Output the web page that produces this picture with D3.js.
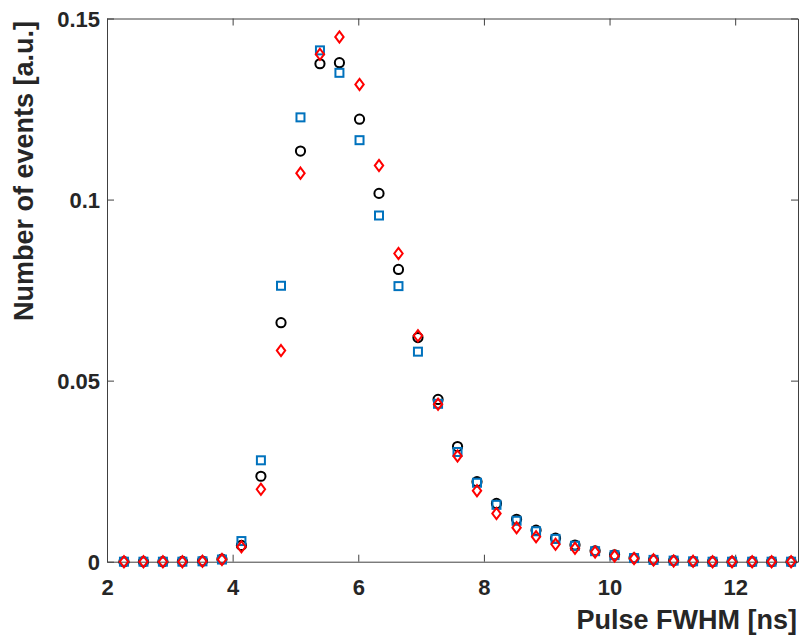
<!DOCTYPE html>
<html>
<head>
<meta charset="utf-8">
<script src="https://cdn.jsdelivr.net/npm/d3@7/dist/d3.min.js"></script>
<style>
  html, body { margin: 0; padding: 0; background: #ffffff; }
  svg { display: block; }
</style>
</head>
<body>
<svg id="chart" width="801" height="641"></svg>
<script>
// ---- data ----
const fwhm = [2.27, 2.58, 2.89, 3.20, 3.52, 3.83, 4.14, 4.45, 4.77, 5.08, 5.39, 5.70, 6.02, 6.33, 6.64, 6.95, 7.27, 7.58, 7.89, 8.20, 8.52, 8.83, 9.14, 9.45, 9.77, 10.08, 10.39, 10.70, 11.02, 11.33, 11.64, 11.95, 12.27, 12.58, 12.89];
const seriesBlack = [0, 0, 0, 0.0001, 0.0002, 0.0007, 0.0045, 0.0236, 0.0660, 0.1134, 0.1375, 0.1378, 0.1222, 0.1017, 0.0807, 0.0619, 0.0448, 0.0318, 0.0221, 0.0161, 0.0117, 0.0087, 0.0065, 0.0046, 0.0030, 0.0019, 0.0010, 0.0005, 0.0003, 0.0001, 0, 0, 0, 0, 0];
const seriesBlue = [0, 0, 0, 0, 0.0001, 0.0006, 0.0057, 0.0280, 0.0762, 0.1227, 0.1412, 0.1350, 0.1164, 0.0956, 0.0761, 0.0580, 0.0436, 0.0303, 0.0218, 0.0157, 0.0113, 0.0084, 0.0063, 0.0044, 0.0029, 0.0018, 0.0010, 0.0005, 0.0003, 0.0001, 0, 0, 0, 0, 0];
const seriesRed = [0, 0, 0, 0, 0.0001, 0.0006, 0.0041, 0.0200, 0.0583, 0.1073, 0.1401, 0.1449, 0.1318, 0.1094, 0.0851, 0.0624, 0.0435, 0.0292, 0.0196, 0.0133, 0.0094, 0.0069, 0.0048, 0.0037, 0.0027, 0.0016, 0.0009, 0.0005, 0.0002, 0.0001, 0, 0, 0, 0, 0];
const xTicks = [2, 4, 6, 8, 10, 12];
const xTickLabels = ["2", "4", "6", "8", "10", "12"];
const yTicks = [0, 0.05, 0.1, 0.15];
const yTickLabels = ["0", "0.05", "0.1", "0.15"];
const xLabel = "Pulse FWHM [ns]";
const yLabel = "Number of events [a.u.]";

// ---- layout ----
const plotLeft = 107, plotRight = 798, plotTop = 18.5, plotBottom = 561.7;
const font = "'Liberation Sans', Arial, Helvetica, sans-serif";
const axisColor = "#404040";
const textColor = "#262626";

const svg = d3.select("#chart");
const x = d3.scaleLinear().domain([2, 13]).range([plotLeft, plotRight]);
const y = d3.scaleLinear().domain([0, 0.15]).range([plotBottom, plotTop]);

function styleAxis(g) {
  g.selectAll("path.domain").attr("stroke", axisColor).attr("stroke-width", 1);
  g.selectAll(".tick line").attr("stroke", axisColor).attr("stroke-width", 1);
  g.selectAll("text").attr("fill", textColor)
    .style("font-family", font).style("font-weight", "bold").style("font-size", "22px");
}

// bottom axis
const gB = svg.append("g").attr("transform", `translate(0,${plotBottom})`)
  .call(d3.axisBottom(x).tickValues(xTicks).tickFormat((d, i) => xTickLabels[i]).tickSizeInner(-7).tickSizeOuter(0));
styleAxis(gB);
gB.selectAll("text").attr("y", 33.5).attr("dy", null);

// top axis
const gT = svg.append("g").attr("transform", `translate(0,${plotTop})`)
  .call(d3.axisTop(x).tickValues(xTicks).tickFormat("").tickSizeInner(-7).tickSizeOuter(0));
styleAxis(gT);

// left axis
const gL = svg.append("g").attr("transform", `translate(${plotLeft},0)`)
  .call(d3.axisLeft(y).tickValues(yTicks).tickFormat((d, i) => yTickLabels[i]).tickSizeInner(-7).tickSizeOuter(0));
styleAxis(gL);
gL.selectAll("text").attr("x", -7).attr("dy", "0.36em").attr("text-anchor", "end");

// right axis
const gR = svg.append("g").attr("transform", `translate(${plotRight},0)`)
  .call(d3.axisRight(y).tickValues(yTicks).tickFormat("").tickSizeInner(-7).tickSizeOuter(0));
styleAxis(gR);

// axis labels
svg.append("text")
  .attr("x", 797).attr("y", 629)
  .attr("text-anchor", "end")
  .attr("fill", textColor)
  .style("font-family", font).style("font-weight", "bold").style("font-size", "27px")
  .text(xLabel);

svg.append("text")
  .attr("transform", `translate(33,171) rotate(-90)`)
  .attr("text-anchor", "middle")
  .attr("fill", textColor)
  .style("font-family", font).style("font-weight", "bold").style("font-size", "27px")
  .text(yLabel);

// ---- markers ----
const blackPts = fwhm.map((v, i) => ({ x: v, y: seriesBlack[i] }));
const bluePts = fwhm.map((v, i) => ({ x: v, y: seriesBlue[i] }));
const redPts = fwhm.map((v, i) => ({ x: v, y: seriesRed[i] }));

svg.append("g").selectAll("circle").data(blackPts).join("circle")
  .attr("cx", d => x(d.x)).attr("cy", d => y(d.y)).attr("r", 4.6)
  .attr("fill", "none").attr("stroke", "#000000").attr("stroke-width", 2);

const sq = 8;
svg.append("g").selectAll("rect").data(bluePts).join("rect")
  .attr("x", d => x(d.x) - sq / 2).attr("y", d => y(d.y) - sq / 2)
  .attr("width", sq).attr("height", sq)
  .attr("fill", "none").attr("stroke", "#0072BD").attr("stroke-width", 2);

const dw = 4.2, dh = 5.6;
svg.append("g").selectAll("path").data(redPts).join("path")
  .attr("d", d => {
    const cx = x(d.x), cy = y(d.y);
    return `M${cx},${cy - dh}L${cx + dw},${cy}L${cx},${cy + dh}L${cx - dw},${cy}Z`;
  })
  .attr("fill", "none").attr("stroke", "#FF0000").attr("stroke-width", 2);
</script>
</body>
</html>
